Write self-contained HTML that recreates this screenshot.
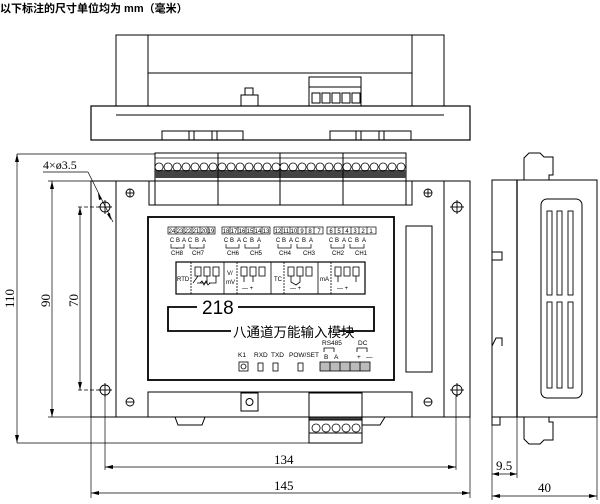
<!DOCTYPE html>
<html><head><meta charset="utf-8"><style>
html,body{margin:0;padding:0;background:#fff;}
svg{display:block;}
text{font-family:"Liberation Sans","Noto Sans CJK SC",sans-serif;fill:#000;}
text.s{font-family:"Liberation Serif","Noto Serif CJK SC",serif;}
</style></head><body>
<svg width="600" height="504" viewBox="0 0 600 504" xmlns="http://www.w3.org/2000/svg" fill="none" stroke="#000" stroke-width="1">
<text x="0" y="12" font-size="11" font-weight="bold" stroke="none">以下标注的尺寸单位均为 mm（毫米）</text>

<!-- TOP VIEW -->
<rect x="116" y="35" width="328" height="71"/>
<line x1="148" y1="35" x2="148" y2="106"/><line x1="412" y1="35" x2="412" y2="106"/>
<line x1="148" y1="73" x2="412" y2="73"/>
<rect x="91" y="106" width="379" height="34" stroke-width="1.2"/>
<line x1="116" y1="115" x2="444" y2="115"/>
<rect x="245" y="88" width="8" height="7"/><rect x="241" y="95" width="17" height="11"/>
<rect x="309" y="77" width="52" height="29"/><line x1="309" y1="87" x2="361" y2="87"/>
<rect x="312" y="93" width="8" height="10"/><rect x="322" y="93" width="8" height="10"/><rect x="332" y="93" width="8" height="10"/><rect x="342" y="93" width="8" height="10"/><rect x="352" y="93" width="8" height="10"/>
<rect x="162" y="131" width="81" height="9"/><line x1="189" y1="131" x2="189" y2="140"/><line x1="194" y1="131" x2="194" y2="140"/><line x1="212" y1="131" x2="212" y2="140"/><line x1="217" y1="131" x2="217" y2="140"/>
<rect x="330" y="131" width="81" height="9"/><line x1="356" y1="131" x2="356" y2="140"/><line x1="361" y1="131" x2="361" y2="140"/><line x1="379" y1="131" x2="379" y2="140"/><line x1="384" y1="131" x2="384" y2="140"/>

<!-- FRONT VIEW -->
<rect x="91" y="181" width="379" height="236"/>
<line x1="116" y1="181" x2="116" y2="417"/><line x1="444" y1="181" x2="444" y2="417"/>
<rect x="155" y="153" width="251" height="52"/>
<rect x="149" y="181" width="6" height="24"/><rect x="406" y="181" width="6" height="24"/>
<rect x="155" y="170" width="251" height="8" fill="#444" stroke="none"/>
<line x1="218" y1="153" x2="218" y2="205"/><line x1="280" y1="153" x2="280" y2="205"/><line x1="343" y1="153" x2="343" y2="205"/>
<g stroke-width="0.8">
<path d="M159 163a4 4 0 1 0 .1 0M168 163a4 4 0 1 0 .1 0M177 163a4 4 0 1 0 .1 0M186 163a4 4 0 1 0 .1 0M195 163a4 4 0 1 0 .1 0M204 163a4 4 0 1 0 .1 0M213 163a4 4 0 1 0 .1 0"/>
<path d="M222 163a4 4 0 1 0 .1 0M231 163a4 4 0 1 0 .1 0M240 163a4 4 0 1 0 .1 0M249 163a4 4 0 1 0 .1 0M258 163a4 4 0 1 0 .1 0M267 163a4 4 0 1 0 .1 0M276 163a4 4 0 1 0 .1 0"/>
<path d="M284 163a4 4 0 1 0 .1 0M293 163a4 4 0 1 0 .1 0M302 163a4 4 0 1 0 .1 0M311 163a4 4 0 1 0 .1 0M320 163a4 4 0 1 0 .1 0M329 163a4 4 0 1 0 .1 0M338 163a4 4 0 1 0 .1 0"/>
<path d="M347 163a4 4 0 1 0 .1 0M356 163a4 4 0 1 0 .1 0M365 163a4 4 0 1 0 .1 0M374 163a4 4 0 1 0 .1 0M383 163a4 4 0 1 0 .1 0M392 163a4 4 0 1 0 .1 0M401 163a4 4 0 1 0 .1 0"/>
<line x1="155" y1="158" x2="406" y2="158"/>
</g>
<g stroke-width="0.9">
<circle cx="130" cy="193" r="4"/><line x1="126" y1="193" x2="134" y2="193"/><line x1="130" y1="189" x2="130" y2="197"/>
<circle cx="428" cy="193" r="4"/><line x1="424" y1="193" x2="432" y2="193"/><line x1="428" y1="189" x2="428" y2="197"/>
<circle cx="130" cy="402" r="4"/><line x1="126" y1="402" x2="134" y2="402"/>
<circle cx="428" cy="402" r="4"/><line x1="424" y1="402" x2="432" y2="402"/>
<circle cx="105" cy="207" r="5"/><line x1="98" y1="207" x2="112" y2="207"/><line x1="105" y1="200" x2="105" y2="214"/>
<circle cx="105" cy="390" r="5"/><line x1="98" y1="390" x2="112" y2="390"/><line x1="105" y1="383" x2="105" y2="397"/>
<circle cx="457" cy="207" r="5"/><line x1="450" y1="207" x2="464" y2="207"/><line x1="457" y1="200" x2="457" y2="214"/>
<circle cx="457" cy="390" r="5"/><line x1="450" y1="390" x2="464" y2="390"/><line x1="457" y1="383" x2="457" y2="397"/>
</g>
<rect x="148" y="217" width="246" height="163" stroke-width="1.8"/>
<rect x="406" y="226" width="26" height="146"/>
<g stroke-width="0.7">
<rect x="168" y="227" width="47" height="7"/><rect x="222" y="227" width="48" height="7"/><rect x="274" y="227" width="49" height="7"/><rect x="327" y="227" width="49" height="7"/>
<path d="M176 227v7M184 227v7M192 227v7M200 227v7M208 227v7M230 227v7M238 227v7M246 227v7M254 227v7M262 227v7M282 227v7M290 227v7M298 227v7M306 227v7M314 227v7M335 227v7M343 227v7M351 227v7M359 227v7M367 227v7"/>
</g>
<g font-size="6" stroke="none" text-anchor="middle">
<text x="172" y="233">24</text><text x="180" y="233">23</text><text x="188" y="233">22</text><text x="196" y="233">21</text><text x="204" y="233">20</text><text x="211" y="233">19</text>
<text x="226" y="233">18</text><text x="234" y="233">17</text><text x="242" y="233">16</text><text x="250" y="233">15</text><text x="258" y="233">14</text><text x="266" y="233">13</text>
<text x="278" y="233">12</text><text x="286" y="233">11</text><text x="294" y="233">10</text><text x="302" y="233">9</text><text x="310" y="233">8</text><text x="319" y="233">7</text>
<text x="331" y="233">6</text><text x="339" y="233">5</text><text x="347" y="233">4</text><text x="355" y="233">3</text><text x="363" y="233">2</text><text x="371" y="233">1</text>
<text x="172" y="242">C</text><text x="178" y="242">B</text><text x="184" y="242">A</text><text x="190" y="242">C</text><text x="197" y="242">B</text><text x="204" y="242">A</text>
<text x="226" y="242">C</text><text x="232" y="242">B</text><text x="239" y="242">A</text><text x="245" y="242">C</text><text x="252" y="242">B</text><text x="259" y="242">A</text>
<text x="278" y="242">C</text><text x="284" y="242">B</text><text x="291" y="242">A</text><text x="297" y="242">C</text><text x="304" y="242">B</text><text x="311" y="242">A</text>
<text x="331" y="242">C</text><text x="337" y="242">B</text><text x="344" y="242">A</text><text x="350" y="242">C</text><text x="357" y="242">B</text><text x="364" y="242">A</text>
<text x="177" y="255">CH8</text><text x="198" y="255">CH7</text><text x="233" y="255">CH6</text><text x="256" y="255">CH5</text><text x="285" y="255">CH4</text><text x="309" y="255">CH3</text><text x="338" y="255">CH2</text><text x="361" y="255">CH1</text>
</g>
<g stroke-width="0.7">
<path d="M171 244v4h13v-4M177 248v1M190 244v4h14v-4M197 248v1M226 244v4h13v-4M245 244v4h14v-4M278 244v4h13v-4M297 244v4h14v-4M331 244v4h13v-4M350 244v4h14v-4"/>
</g>
<rect x="176" y="262" width="189" height="32" stroke-width="1.2"/>
<g stroke-width="0.8">
<line x1="224" y1="262" x2="224" y2="294"/><line x1="271" y1="262" x2="271" y2="294"/><line x1="318" y1="262" x2="318" y2="294"/>
<line x1="191" y1="262" x2="191" y2="294" stroke-dasharray="2 1"/><line x1="237" y1="262" x2="237" y2="294" stroke-dasharray="2 1"/><line x1="284" y1="262" x2="284" y2="294" stroke-dasharray="2 1"/><line x1="331" y1="262" x2="331" y2="294" stroke-dasharray="2 1"/>
<rect x="195" y="267" width="6" height="9"/><rect x="204" y="267" width="6" height="9"/><rect x="213" y="267" width="6" height="9"/>
<rect x="241" y="267" width="6" height="9"/><rect x="250" y="267" width="6" height="9"/><rect x="259" y="267" width="6" height="9"/>
<rect x="288" y="267" width="6" height="9"/><rect x="297" y="267" width="6" height="9"/><rect x="306" y="267" width="6" height="9"/>
<rect x="335" y="267" width="6" height="9"/><rect x="344" y="267" width="6" height="9"/><rect x="353" y="267" width="6" height="9"/>
<path d="M198 276l-5 7M207 276v7h-10M216 276v7h-7M200 283l2-2 2 4 2-4 2 4 2-2"/>
<path d="M291 276v6l5 3 4-3v-6"/>
<path d="M244 276v6M253 276v6M338 276v6M356 276v6"/>
</g>
<g font-size="6" stroke="none">
<text x="177" y="281">RTD</text><text x="227" y="275">V/</text><text x="226" y="284">mV</text><text x="274" y="281">TC</text><text x="320" y="281">mA</text>
<text x="242" y="290">—   +</text><text x="290" y="290">—   +</text><text x="337" y="290">—      +</text>
</g>
<path d="M197 307H168v24h63M238 307H374v24h-35" stroke-width="1.8"/>
<text x="202" y="314" font-size="19" stroke="none">218</text>
<text x="233" y="337" font-size="13.5" stroke="none">八通道万能输入模块</text>
<g font-size="6.5" stroke="none">
<text x="238" y="357">K1</text><text x="254" y="357">RXD</text><text x="271" y="357">TXD</text><text x="289" y="357">POW/SET</text>
<text x="322" y="345">RS485</text><text x="358" y="345">DC</text>
<text x="324" y="359">B</text><text x="334" y="359">A</text><text x="357" y="359">+</text><text x="366" y="359">—</text>
</g>
<g stroke-width="0.8">
<rect x="239" y="362" width="9" height="9"/><circle cx="243.5" cy="366.5" r="2.5"/>
<rect x="258" y="363" width="5" height="8"/><rect x="273" y="363" width="5" height="8"/><rect x="298" y="363" width="5" height="8"/>
<path d="M324 352v-4h10v4M357 352v-4h10v4"/>
<rect x="320" y="362" width="50" height="9" fill="#bbb"/>
<path d="M330 362v9M340 362v9M350 362v9M360 362v9"/>
</g>
<rect x="148" y="392" width="264" height="25"/>
<rect x="241" y="393" width="17" height="18"/><circle cx="249.5" cy="402" r="3.5"/>
<rect x="309" y="393" width="53" height="50"/>
<rect x="309" y="417" width="53" height="3" fill="#444"/>
<path d="M313 420a4 4 0 1 0 .1 0M323 420a4 4 0 1 0 .1 0M333 420a4 4 0 1 0 .1 0M343 420a4 4 0 1 0 .1 0M353 420a4 4 0 1 0 .1 0" transform="translate(3,4)" stroke-width="0.8"/>
<line x1="309" y1="433" x2="362" y2="433"/>
<path d="M175 417l3 8h24l3-8M362 417v8h18l5-8"/>

<g stroke-width="0.7">
<line x1="17" y1="154" x2="155" y2="154"/><line x1="17" y1="443" x2="309" y2="443"/>
<line x1="17" y1="154" x2="17" y2="443"/>
<line x1="48" y1="181" x2="91" y2="181"/><line x1="52" y1="181" x2="52" y2="417"/><line x1="48" y1="417" x2="91" y2="417"/>
<line x1="80" y1="207" x2="80" y2="390"/>
<line x1="78" y1="207" x2="100" y2="207" stroke-dasharray="4 2"/><line x1="78" y1="390" x2="100" y2="390" stroke-dasharray="4 2"/>
<line x1="43" y1="172" x2="88" y2="172"/><line x1="88" y1="172" x2="113" y2="222"/>
<line x1="105" y1="395" x2="105" y2="470"/><line x1="456" y1="395" x2="456" y2="470"/><line x1="105" y1="467" x2="456" y2="467"/>
<line x1="91" y1="417" x2="91" y2="498"/><line x1="470" y1="417" x2="470" y2="498"/><line x1="91" y1="493" x2="470" y2="493"/>
</g>
<g fill="#000" stroke="none">
<path d="M17 154l-2 8h4zM17 443l-2-8h4zM52 181l-2 8h4zM52 417l-2-8h4zM80 207l-2 8h4zM80 390l-2-8h4z"/>
<path d="M105 467l8-2v4zM456 467l-8-2v4zM91 493l8-2v4zM470 493l-8-2v4z"/>
<path d="M98 193l4 6-3 1zM111 220l-4-6 3-1z"/>
</g>
<g font-size="13" stroke="none">
<text class="s" x="43" y="169" font-size="12">4×ø3.5</text>
<text class="s" x="274" y="464">134</text><text class="s" x="274" y="490">145</text>
<text class="s" transform="translate(14,308) rotate(-90)">110</text>
<text class="s" transform="translate(50,307) rotate(-90)">90</text>
<text class="s" transform="translate(78,307) rotate(-90)">70</text>
<text class="s" x="496" y="470">9.5</text><text class="s" x="538" y="492">40</text>
</g>

<rect x="492" y="180" width="105" height="237"/>
<line x1="517" y1="180" x2="517" y2="417" stroke-width="1.3"/>
<path d="M524 180v-22l5-5h11l4 4h9v18h-4v5"/>
<path d="M524 417v22l5 5h11l4-4h9v-18h-4v-5"/>
<rect x="541" y="199" width="41" height="199" rx="6"/>
<g stroke-width="0.9">
<rect x="547" y="211" width="5" height="84"/><rect x="557" y="211" width="5" height="84"/><rect x="568" y="211" width="5" height="84"/>
<rect x="547" y="302" width="5" height="86"/><rect x="557" y="302" width="5" height="86"/><rect x="568" y="302" width="5" height="86"/>
</g>
<path d="M492 252h10v8h-10M492 346l4-8h6v8M492 417v8h8v-8"/>
<g stroke-width="0.7">
<line x1="492" y1="417" x2="492" y2="500"/><line x1="517" y1="417" x2="517" y2="478"/><line x1="597" y1="417" x2="597" y2="500"/>
<line x1="492" y1="474" x2="517" y2="474"/><line x1="492" y1="496" x2="597" y2="496"/>
</g>
<g fill="#000" stroke="none"><path d="M492 474l7-2v4zM517 474l-7-2v4zM492 496l8-2v4zM597 496l-8-2v4z"/></g>
</svg>
</body></html>
